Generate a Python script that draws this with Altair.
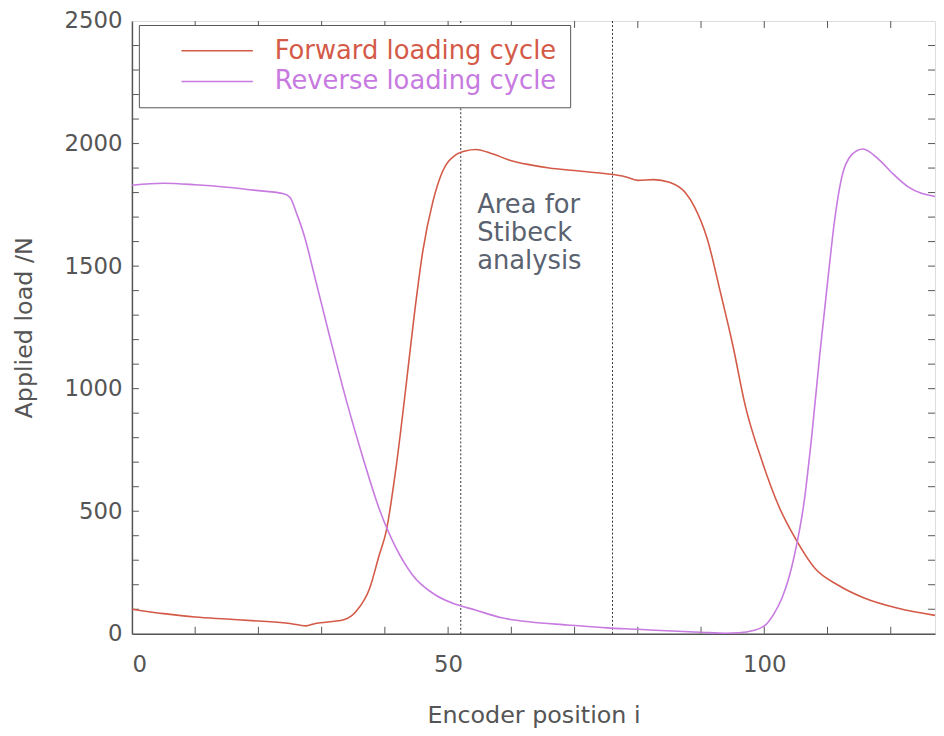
import altair as alt
import pandas as pd

# ---- data ----
series_names = ["Forward loading cycle", "Reverse loading cycle"]

fwd_x = [0, 5, 10, 15, 20, 25, 27.5, 29, 31, 33.5, 35.5, 37.6, 39.1, 40.2, 41.8, 43.4, 44.6, 46, 47.6,
         49.1, 51.2, 52.7, 54.4, 57, 60, 63, 66, 70, 75, 78, 80, 82.5, 85, 87.5, 89, 91, 93, 95, 97,
         99.7, 102.3, 105, 108, 111.7, 115.8, 121, 127]
fwd_y = [100, 82, 68, 60, 52, 42, 32, 42, 48, 57, 93, 186, 320, 417, 684, 1023, 1290, 1561, 1764,
         1885, 1954, 1970, 1976, 1958, 1930, 1913, 1900, 1890, 1877, 1865, 1850, 1853, 1842, 1800, 1740,
         1610, 1400, 1180, 930, 700, 520, 385, 267, 198, 146, 105, 75]

rev_x = [0, 5, 10, 15, 20, 24, 25, 26.1, 27.3, 28.8, 31.3, 34, 36.6, 39.1, 41.8, 44.4, 48, 51.2, 54.3,
         58.5, 63, 68.9, 75.1, 80, 84.5, 90, 93.9, 96, 98.1, 100.2, 101.5, 102.8, 103.8, 104.9, 106.3,
         107.5, 108.8, 110.2, 111.1, 112.2, 113.8, 115.6, 118, 120.5, 122.7, 127]
rev_y = [1830, 1838, 1832, 1822, 1808, 1795, 1780, 1711, 1620, 1468, 1210, 943, 712, 510, 348, 239, 158,
         120, 97, 65, 48, 36, 24, 18, 12, 6, 2, 4, 12, 36, 80, 146, 220, 336, 538, 805, 1145, 1480, 1683,
         1857, 1954, 1978, 1938, 1873, 1824, 1784]

marker_x = [52, 76]          # dotted lines bounding the analysis area
note_x = [54.6]
note_y = [1800]
note_text = [["Area for", "Stibeck", "analysis"]]

x_labels = [0, 50, 100]
y_labels = [0, 500, 1000, 1500, 2000, 2500]
x_minor = [10, 20, 30, 40, 50, 60, 70, 80, 90, 100, 110, 120]
y_minor = [100, 200, 300, 400, 500, 600, 700, 800, 900, 1000, 1100, 1200, 1300, 1400, 1500,
           1600, 1700, 1800, 1900, 2000, 2100, 2200, 2300, 2400]

# ---- layout / style ----
W, H = 810, 618
XMAX, YMAX = 127, 2500
RED = "#d45a48"
VIOLET = "#c77ae0"
GREY = "#555555"
FONT = "DejaVu Sans"
TICK = 7

df = pd.concat([
    pd.DataFrame({"i": fwd_x, "load": fwd_y, "cycle": series_names[0]}),
    pd.DataFrame({"i": rev_x, "load": rev_y, "cycle": series_names[1]}),
])

xscale = alt.Scale(domain=[0, XMAX], nice=False, zero=False)
yscale = alt.Scale(domain=[0, YMAX], nice=False)

lines = alt.Chart(df).mark_line(strokeWidth=1.6, interpolate="monotone").encode(
    x=alt.X("i:Q", scale=xscale,
            axis=alt.Axis(title="Encoder position i", values=x_labels, tickSize=0, format="d",
                          labelFontSize=23, labelFont=FONT, labelColor=GREY, labelPadding=20,
                          titleFontSize=24, titleFont=FONT, titleColor=GREY, titleFontWeight="normal",
                          titlePadding=28, domainColor=GREY, domainWidth=1.5, grid=False)),
    y=alt.Y("load:Q", scale=yscale,
            axis=alt.Axis(title="Applied load /N", values=y_labels, tickSize=0, format="d",
                          labelFontSize=23, labelFont=FONT, labelColor=GREY, labelPadding=10,
                          titleFontSize=24, titleFont=FONT, titleColor=GREY, titleFontWeight="normal",
                          titlePadding=28, domainColor=GREY, domainWidth=1.5, grid=False)),
    color=alt.Color("cycle:N",
                    scale=alt.Scale(domain=series_names, range=[RED, VIOLET]),
                    legend=alt.Legend(title=None, orient="none", legendX=7, legendY=4,
                                      symbolType="M-6,0H6", symbolSize=144, symbolStrokeWidth=1.5,
                                      symbolOffset=53,
                                      labelFontSize=26, labelFont=FONT, labelLimit=500,
                                      labelColor={"expr": "datum.label == 'Forward loading cycle' ? '%s' : '%s'" % (RED, VIOLET)},
                                      labelOffset=45, rowPadding=5, padding=13,
                                      fillColor="white", strokeColor=GREY)),
    detail="cycle:N",
)

vlines = alt.Chart(pd.DataFrame({"m": marker_x})).mark_rule(
    color="#333333", strokeWidth=1, strokeDash=[2, 2]
).encode(x=alt.X("m:Q", scale=xscale))

note = alt.Chart(pd.DataFrame({"x": note_x, "y": note_y, "t": note_text})).mark_text(
    align="left", baseline="top", fontSize=26, font=FONT, color="#5a6270", lineHeight=28
).encode(x=alt.X("x:Q", scale=xscale), y=alt.Y("y:Q", scale=yscale), text="t")

# inward ticks
xt = pd.DataFrame({"v": x_minor})
yt = pd.DataFrame({"v": y_minor})
xtick_bottom = alt.Chart(xt).mark_rule(color=GREY, strokeWidth=1).encode(
    x=alt.X("v:Q", scale=xscale), y=alt.value(H), y2=alt.value(H - TICK))
xtick_top = alt.Chart(xt).mark_rule(color=GREY, strokeWidth=1).encode(
    x=alt.X("v:Q", scale=xscale), y=alt.value(0), y2=alt.value(TICK))
ytick_left = alt.Chart(yt).mark_rule(color=GREY, strokeWidth=1).encode(
    y=alt.Y("v:Q", scale=yscale), x=alt.value(0), x2=alt.value(TICK))
ytick_right = alt.Chart(yt).mark_rule(color=GREY, strokeWidth=1).encode(
    y=alt.Y("v:Q", scale=yscale), x=alt.value(W), x2=alt.value(W - TICK))

chart = alt.layer(
    xtick_bottom, xtick_top, ytick_left, ytick_right, vlines, note, lines
).properties(
    width=W, height=H,
    autosize=alt.AutoSizeParams(type="none"),
    padding={"left": 125, "top": 10, "right": 1, "bottom": 100},
).configure_view(
    stroke=GREY, strokeWidth=1.5
).configure(
    background="white"
)

chart.save("out.html", embed_options={"renderer": "svg", "actions": False})
